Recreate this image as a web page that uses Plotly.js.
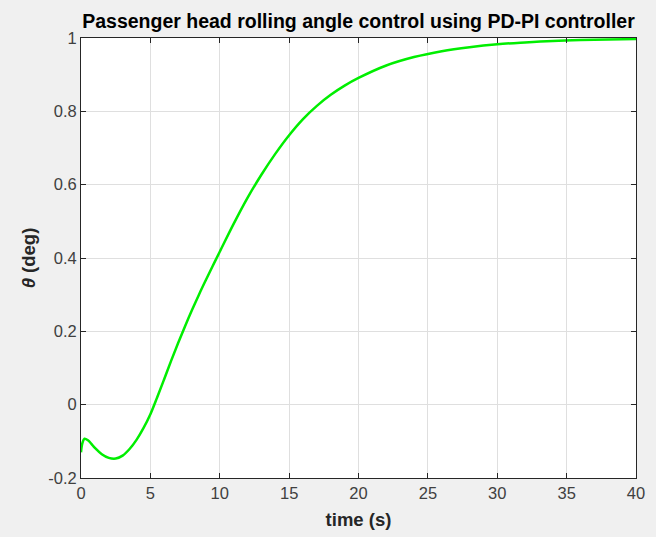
<!DOCTYPE html>
<html>
<head>
<meta charset="utf-8">
<script src="https://cdn.plot.ly/plotly-3.0.1.min.js"></script>
<style>html,body{margin:0;padding:0;background:#f0f0f0;}#chart{width:656px;height:537px;}</style>
</head>
<body>
<div id="chart"></div>
<script>
const timeS = [0, 0.1, 0.25, 0.5, 0.75, 1, 1.5, 2, 2.5, 3, 3.5, 4, 4.5, 5, 5.5, 6, 6.5, 7, 7.5, 8, 8.5, 9, 9.5, 10, 11, 12, 13, 14, 15, 16, 17, 18, 19, 20, 22, 24, 26, 28, 30, 32, 34, 36, 38, 40];
const thetaDeg = [-0.13, -0.105, -0.093, -0.097, -0.107, -0.118, -0.135, -0.145, -0.147, -0.139, -0.121, -0.096, -0.064, -0.026, 0.021, 0.07, 0.12, 0.168, 0.214, 0.258, 0.300, 0.340, 0.379, 0.417, 0.493, 0.564, 0.627, 0.684, 0.735, 0.779, 0.815, 0.845, 0.870, 0.891, 0.925, 0.948, 0.964, 0.975, 0.983, 0.988, 0.992, 0.9945, 0.996, 0.997];
const xTickVals = [0, 5, 10, 15, 20, 25, 30, 35, 40];
const xTickText = ['0', '5', '10', '15', '20', '25', '30', '35', '40'];
const yTickVals = [-0.2, 0, 0.2, 0.4, 0.6, 0.8, 1];
const yTickText = ['-0.2', '0', '0.2', '0.4', '0.6', '0.8', '1'];

const fontFam = 'Liberation Sans, Arial, sans-serif';
const trace = {
  x: timeS, y: thetaDeg, type: 'scatter', mode: 'lines',
  line: {color: '#00ee00', width: 2.5, shape: 'spline', smoothing: 1},
  hoverinfo: 'skip'
};
const axisCommon = {
  showline: true, linecolor: '#262626', linewidth: 1, mirror: 'ticks',
  ticks: 'inside', ticklen: 5, tickcolor: '#262626',
  showgrid: true, gridcolor: '#dfdfdf', gridwidth: 1, zeroline: false,
  tickfont: {family: fontFam, size: 16.5, color: '#404040'}
};
const layout = {
  width: 656, height: 537,
  paper_bgcolor: '#f0f0f0', plot_bgcolor: '#ffffff',
  margin: {l: 81, r: 20, t: 38, b: 59},
  showlegend: false,
  title: {
    text: '<b>Passenger head rolling angle control using PD-PI controller</b>',
    font: {family: fontFam, size: 19.5, color: '#000000'},
    x: 0.5, xref: 'paper', xanchor: 'center',
    y: 1 - 21 / 537, yref: 'container', yanchor: 'middle'
  },
  xaxis: Object.assign({}, axisCommon, {
    range: [0, 40], tickvals: xTickVals, ticktext: xTickText,
    title: {text: '<b>time (s)</b>', font: {family: fontFam, size: 18.5, color: '#262626'}, standoff: 12}
  }),
  yaxis: Object.assign({}, axisCommon, {
    range: [-0.2, 1], tickvals: yTickVals, ticktext: yTickText,
    title: {text: '<b><i>θ</i> (deg)</b>', font: {family: fontFam, size: 18.5, color: '#262626'}, standoff: 7}
  })
};
Plotly.newPlot('chart', [trace], layout, {displayModeBar: false, staticPlot: true});
</script>
</body>
</html>
